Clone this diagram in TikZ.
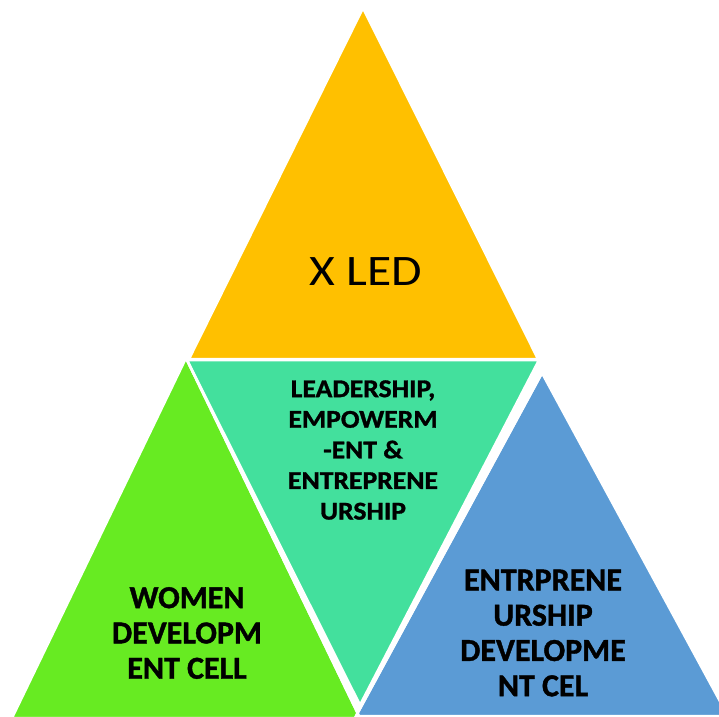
\documentclass[tikz,border=0pt]{standalone}
\usepackage{fontspec}
\setmainfont{Carlito}[BoldFeatures={FakeBold=1.2}]
\newfontfamily\widefont[FakeStretch=1.14]{Carlito}
\newfontfamily\midfont[FakeStretch=1.08, BoldFeatures={FakeBold=1.2}]{Carlito}
\definecolor{ledorange}{RGB}{255,192,0}
\definecolor{ledteal}{RGB}{67,224,157}
\definecolor{ledgreen}{RGB}{103,235,34}
\definecolor{ledblue}{RGB}{91,155,213}
\begin{document}
\begin{tikzpicture}[x=1pt, y=-1pt, tri/.style={draw=white, line width=2.5pt, line join=miter},
  label text/.style={align=center, inner sep=0pt, font=\fontsize{32}{35.3}\selectfont\bfseries}]
\useasboundingbox (0,0) rectangle (719,716);
\clip (0,0) rectangle (719,716);
% triangles
\fill[tri, fill=ledorange] (363,8) -- (538,359) -- (189,359) -- cycle;
\fill[tri, fill=ledgreen] (186,358) -- (360,718) -- (12,718) -- cycle;
\fill[tri, fill=ledblue] (542,373) -- (728,716) -- (356,716) -- cycle;
\filldraw[tri, fill=ledteal] (187,360) -- (539,360) -- (360,705) -- cycle;
\draw[white, line width=2.5pt] (186,358) -- (360,718);
\draw[white, line width=2.5pt] (542,373) -- (356,716);
% labels
\node[inner sep=0pt, font=\widefont\fontsize{43.5}{50}\selectfont] (XLED) at (366,272) {X LED};
\node[label text, font=\midfont\fontsize{25.6}{30.6}\selectfont\bfseries] (LEAD) at (363,450) {LEADERSHIP,\\EMPOWERM\\-ENT \&\\ENTREPRENE\\URSHIP};
\node[label text] (WDC) at (187,633) {WOMEN\\DEVELOPM\\ENT CELL};
\node[label text] (EDC) at (543,633) {ENTRPRENE\\URSHIP\\DEVELOPME\\NT CEL};
\end{tikzpicture}
\end{document}
